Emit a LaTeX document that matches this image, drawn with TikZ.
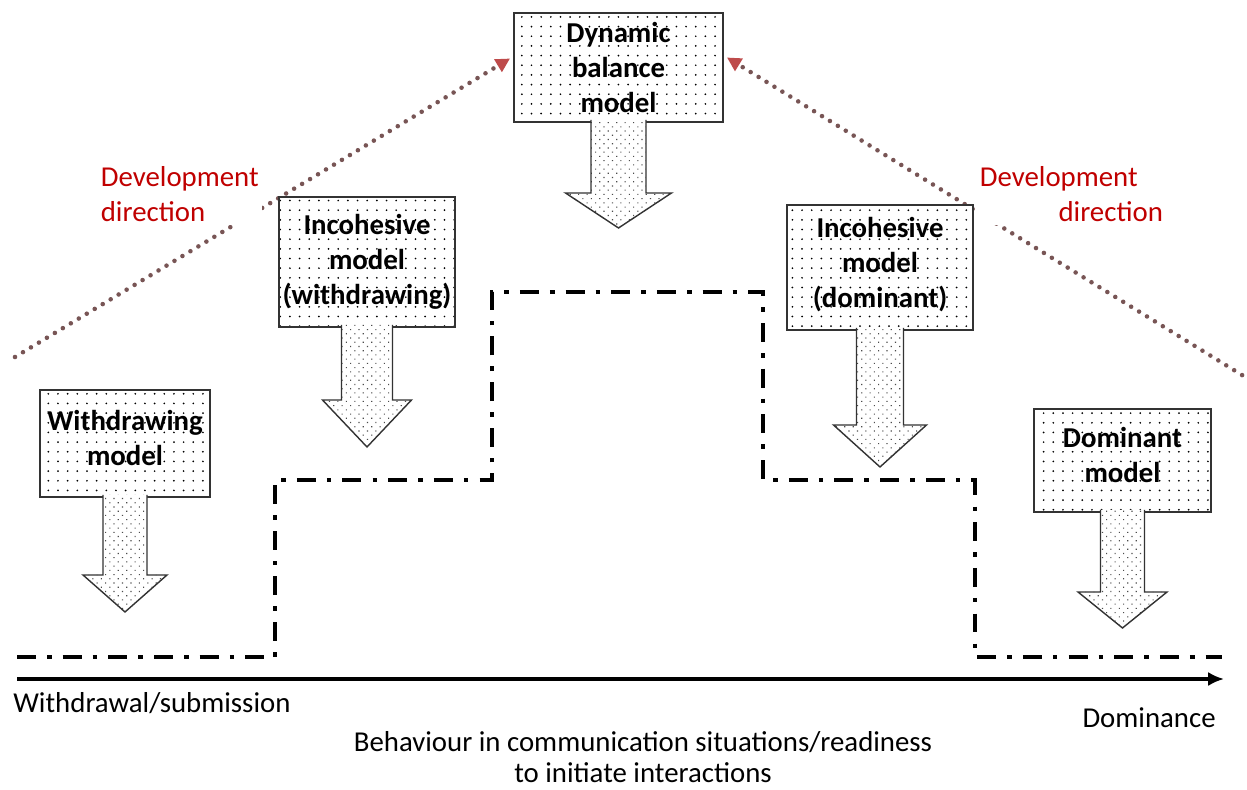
\documentclass[tikz,border=0pt]{standalone}
\usepackage{fontspec}
\setmainfont{Carlito}
\usetikzlibrary{calc,patterns.meta,backgrounds,arrows.meta}

\definecolor{devred}{RGB}{192,0,0}
\definecolor{devdot}{RGB}{120,85,85}
\definecolor{devtip}{RGB}{190,75,75}

\begin{document}
\begin{tikzpicture}[x=0.02cm,y=-0.02cm,
  modelbox/.style={draw=gray!40!black, line width=0.8pt, inner sep=0pt, outer sep=0pt,
    preaction={fill=white}, pattern={Dots[distance=5.5pt,radius=0.55pt]}, pattern color=black,
    align=center, font=\fontsize{16.4}{20}\selectfont\bfseries},
  modelarrow/.style={draw=gray!40!black, line width=0.8pt, preaction={fill=white},
    pattern={Dots[distance=3.4pt,angle=45,radius=0.45pt]}, pattern color=gray!60!black},
  devline/.style={devdot, line width=2.6pt, line cap=round, dash pattern=on 0pt off 5.3pt,
    -{Triangle[length=8pt,width=8pt,color=devtip]}},
  devlabel/.style={devred, fill=white, inner sep=2pt, align=left,
    font=\fontsize{16.4}{20}\selectfont},
  axislabel/.style={font=\fontsize{16.4}{17.8}\selectfont, inner sep=0pt},
  stepline/.style={line width=2.4pt, dash pattern=on 10.8pt off 6.3pt on 2.6pt off 6.3pt},
  axisline/.style={line width=1.8pt, -{Latex[length=9pt,width=8pt]}}
]
\useasboundingbox (0,0) rectangle (1247,790);

% Models
\node[modelbox, minimum width=3.4cm, minimum height=2.14cm, text depth=0.24cm]
(wm) at (125,443.5)
{Withdrawing\\model};

\node[modelbox, minimum width=3.52cm, minimum height=2.6cm]
(iw) at (367,262)
{Incohesive\\model\\(withdrawing)};

\node[modelbox, minimum width=4.18cm, minimum height=2.18cm]
(dyn) at (618.5,67.5)
{Dynamic\\balance\\model};

\node[modelbox, minimum width=3.72cm, minimum height=2.5cm, text depth=0.2cm]
(id) at (880,267.5)
{Incohesive\\model\\(dominant)};

\node[modelbox, minimum width=3.54cm, minimum height=2.06cm, text depth=0.24cm]
(dm) at (1122.5,460.5)
{Dominant\\model};

% Arrows under the models
\draw[modelarrow]
($(wm.south)+(-22,-2)$)
-- ++(0,80) -- ++(-20,0) -- ++(42,37) -- ++(42,-37) -- ++(-20,0) -- ++(0,-80);

\draw[modelarrow]
($(iw.south)+(-25.5,-2)$)
-- ++(0,75) -- ++(-19,0) -- ++(44.5,47) -- ++(44.5,-47) -- ++(-19,0) -- ++(0,-75);

\draw[modelarrow]
($(dyn.south)+(-27.5,-2)$)
-- ++(0,73) -- ++(-25.5,0) -- ++(53,35) -- ++(53,-35) -- ++(-25.5,0) -- ++(0,-73);

\draw[modelarrow]
($(id.south)+(-23.5,-2)$)
-- ++(0,97) -- ++(-23,0) -- ++(46.5,42) -- ++(46.5,-42) -- ++(-23,0) -- ++(0,-97);

\draw[modelarrow]
($(dm.south)+(-22,-2)$)
-- ++(0,82) -- ++(-22.5,0) -- ++(44.5,36) -- ++(44.5,-36) -- ++(-22.5,0) -- ++(0,-82);

% Development directions
\coordinate (lstart) at (15,357);
\coordinate (rstart) at (1250,380);

\begin{scope}[on background layer]
\draw[devline]
(lstart)
--
($(dyn.west)+(-4,-9)$);

\draw[devline]
(rstart)
--
($(dyn.east)+(4,-10)$);
\end{scope}

\node[devlabel, anchor=west]
(ldev) at (97,194)
{Development\\direction};

\node[devlabel, anchor=west]
(rdev) at (976,194)
{Development\\\hspace*{44.8pt}direction};

% Steps
\draw[stepline]
(17,657) -- (275,657) -- (275,480) -- (492,480) -- (492,292)
-- (763,292) -- (763,480) -- (975,480) -- (975,657) -- (1222,657);

% Axis
\coordinate (axl) at (17,679);
\coordinate (axr) at (1224,679);

\draw[axisline]
(axl)
--
(axr);

\node[axislabel, anchor=west]
(lowend) at (13,703)
{Withdrawal/submission};

\node[axislabel, anchor=east]
(highend) at (1216,718)
{Dominance};

\node[axislabel, align=center]
(axtitle) at (643,757)
{Behaviour in communication situations/readiness\\to initiate interactions};

\end{tikzpicture}
\end{document}
